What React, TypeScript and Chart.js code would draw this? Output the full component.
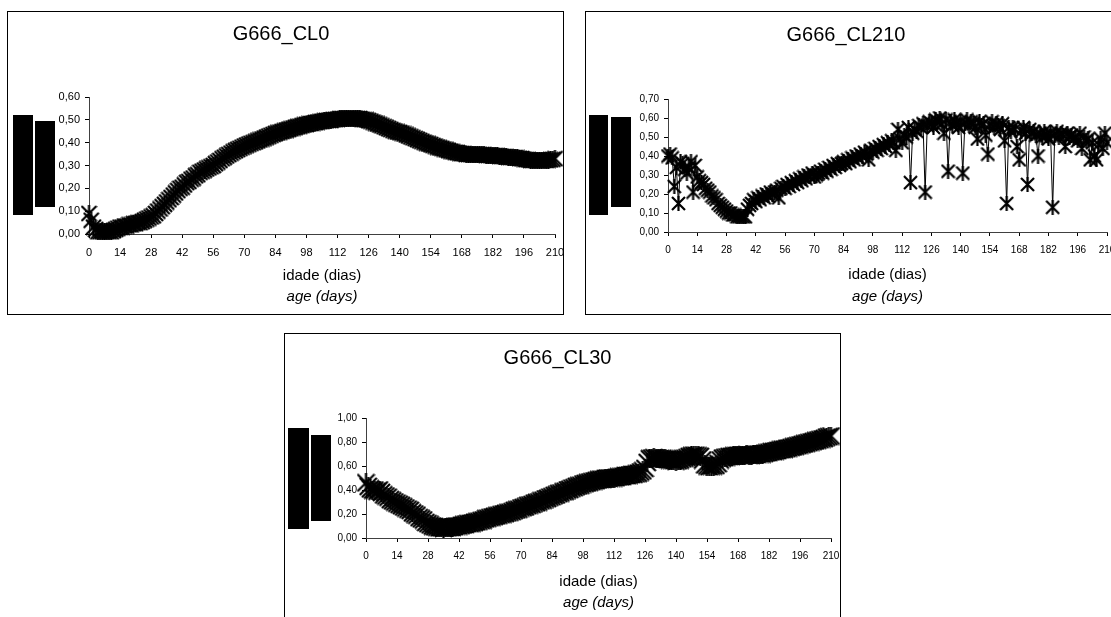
import React, { useEffect, useRef } from 'react';
import { Chart, registerables } from 'chart.js';

Chart.register(...registerables);

// ---------- data ----------
const DAYS: number[] = Array.from({ length: 211 }, (_, i) => i);
const X_TICKS = [0, 14, 28, 42, 56, 70, 84, 98, 112, 126, 140, 154, 168, 182, 196, 210];
const X_TITLE = 'idade (dias)';
const X_SUBTITLE = 'age (days)';

const TITLE_CL0 = 'G666_CL0';
const TITLE_CL210 = 'G666_CL210';
const TITLE_CL30 = 'G666_CL30';

const Y_TICKS_CL0 = [0, 0.1, 0.2, 0.3, 0.4, 0.5, 0.6];
const Y_TICKS_CL210 = [0, 0.1, 0.2, 0.3, 0.4, 0.5, 0.6, 0.7];
const Y_TICKS_CL30 = [0, 0.2, 0.4, 0.6, 0.8, 1.0];

const VALUES_CL0 = [
  0.09, 0.06, 0.03, 0.02, 0.01, 0.01, 0.01, 0.01, 0.01, 0.01, 0.01, 0.015, 0.02, 0.025,
  0.03, 0.03, 0.035, 0.035, 0.04, 0.04, 0.045, 0.045, 0.05, 0.05, 0.055, 0.06, 0.065, 0.07,
  0.075, 0.08, 0.09, 0.10, 0.11, 0.12, 0.13, 0.14, 0.15, 0.16, 0.17, 0.18, 0.19, 0.20,
  0.205, 0.215, 0.225, 0.23, 0.24, 0.245, 0.255, 0.26, 0.27, 0.275, 0.28, 0.285, 0.29, 0.295,
  0.30, 0.308, 0.315, 0.322, 0.33, 0.336, 0.342, 0.348, 0.354, 0.36, 0.365, 0.37, 0.375, 0.38,
  0.385, 0.389, 0.393, 0.397, 0.40, 0.404, 0.408, 0.412, 0.416, 0.42, 0.424, 0.428, 0.432, 0.436,
  0.44, 0.443, 0.446, 0.449, 0.452, 0.455, 0.458, 0.461, 0.464, 0.467, 0.47, 0.472, 0.475, 0.478,
  0.48, 0.482, 0.484, 0.486, 0.488, 0.49, 0.492, 0.494, 0.496, 0.497, 0.498, 0.499, 0.50, 0.502,
  0.503, 0.504, 0.505, 0.506, 0.507, 0.508, 0.508, 0.508, 0.507, 0.506, 0.505, 0.503, 0.501, 0.50,
  0.497, 0.494, 0.49, 0.486, 0.482, 0.478, 0.474, 0.47, 0.466, 0.462, 0.458, 0.454, 0.45, 0.447,
  0.445, 0.442, 0.438, 0.434, 0.43, 0.426, 0.422, 0.418, 0.414, 0.41, 0.406, 0.402, 0.398, 0.395,
  0.392, 0.388, 0.385, 0.381, 0.378, 0.375, 0.372, 0.369, 0.366, 0.363, 0.36, 0.358, 0.356, 0.354,
  0.352, 0.351, 0.35, 0.349, 0.348, 0.348, 0.347, 0.347, 0.346, 0.346, 0.346, 0.345, 0.345, 0.345,
  0.343, 0.342, 0.342, 0.341, 0.34, 0.339, 0.338, 0.337, 0.336, 0.335, 0.334, 0.333, 0.331, 0.33,
  0.328, 0.326, 0.325, 0.324, 0.323, 0.322, 0.322, 0.321, 0.321, 0.322, 0.323, 0.324, 0.325, 0.327,
  0.33,
];

const VALUES_CL210 = [
  0.40, 0.41, 0.39, 0.24, 0.34, 0.15, 0.37, 0.36, 0.33, 0.31, 0.34, 0.37, 0.21, 0.35,
  0.29, 0.27, 0.26, 0.25, 0.23, 0.22, 0.21, 0.19, 0.18, 0.17, 0.15, 0.14, 0.13, 0.12,
  0.11, 0.10, 0.10, 0.09, 0.09, 0.08, 0.08, 0.08, 0.08, 0.08, 0.12, 0.14, 0.15, 0.17,
  0.16, 0.18, 0.17, 0.19, 0.18, 0.20, 0.19, 0.21, 0.20, 0.21, 0.22, 0.18, 0.23, 0.24,
  0.23, 0.25, 0.24, 0.26, 0.25, 0.27, 0.26, 0.28, 0.27, 0.29, 0.28, 0.30, 0.29, 0.31,
  0.29, 0.30, 0.31, 0.32, 0.31, 0.33, 0.32, 0.34, 0.33, 0.35, 0.34, 0.36, 0.35, 0.36,
  0.37, 0.36, 0.38, 0.37, 0.39, 0.38, 0.40, 0.39, 0.41, 0.40, 0.42, 0.41, 0.38, 0.43,
  0.42, 0.44, 0.43, 0.45, 0.44, 0.46, 0.45, 0.47, 0.46, 0.48, 0.47, 0.43, 0.54, 0.49,
  0.47, 0.51, 0.50, 0.55, 0.26, 0.52, 0.54, 0.53, 0.56, 0.55, 0.57, 0.21, 0.56, 0.58,
  0.57, 0.55, 0.59, 0.58, 0.60, 0.57, 0.52, 0.59, 0.32, 0.58, 0.56, 0.59, 0.57, 0.55,
  0.58, 0.31, 0.57, 0.59, 0.56, 0.58, 0.57, 0.55, 0.49, 0.58, 0.56, 0.57, 0.51, 0.41,
  0.56, 0.58, 0.55, 0.57, 0.56, 0.54, 0.57, 0.48, 0.15, 0.55, 0.53, 0.55, 0.54, 0.45,
  0.38, 0.53, 0.55, 0.52, 0.25, 0.54, 0.52, 0.53, 0.51, 0.40, 0.52, 0.50, 0.53, 0.51,
  0.49, 0.52, 0.13, 0.51, 0.53, 0.50, 0.52, 0.51, 0.45, 0.52, 0.50, 0.51, 0.49, 0.50,
  0.48, 0.52, 0.44, 0.50, 0.48, 0.49, 0.38, 0.47, 0.40, 0.38, 0.46, 0.49, 0.44, 0.52,
  0.47,
];

const VALUES_CL30 = [
  0.46, 0.43, 0.41, 0.40, 0.40, 0.39, 0.40, 0.38, 0.36, 0.35, 0.34, 0.32, 0.31, 0.30,
  0.29, 0.28, 0.27, 0.26, 0.25, 0.24, 0.23, 0.21, 0.20, 0.19, 0.17, 0.16, 0.15, 0.13,
  0.12, 0.11, 0.10, 0.095, 0.09, 0.085, 0.085, 0.08, 0.085, 0.085, 0.09, 0.09, 0.095, 0.10,
  0.10, 0.105, 0.11, 0.115, 0.12, 0.12, 0.125, 0.13, 0.135, 0.14, 0.145, 0.15, 0.16, 0.165,
  0.17, 0.175, 0.18, 0.185, 0.19, 0.195, 0.20, 0.205, 0.21, 0.215, 0.22, 0.23, 0.235, 0.24,
  0.25, 0.255, 0.26, 0.27, 0.275, 0.28, 0.29, 0.295, 0.30, 0.31, 0.315, 0.325, 0.33, 0.34,
  0.345, 0.355, 0.36, 0.37, 0.375, 0.385, 0.39, 0.40, 0.405, 0.415, 0.42, 0.43, 0.435, 0.44,
  0.45, 0.455, 0.46, 0.465, 0.47, 0.475, 0.48, 0.485, 0.49, 0.49, 0.495, 0.50, 0.50, 0.50,
  0.50, 0.505, 0.51, 0.51, 0.515, 0.52, 0.52, 0.525, 0.53, 0.53, 0.535, 0.54, 0.55, 0.56,
  0.58, 0.63, 0.66, 0.665, 0.67, 0.665, 0.66, 0.66, 0.665, 0.66, 0.655, 0.65, 0.65, 0.645,
  0.64, 0.645, 0.65, 0.66, 0.665, 0.67, 0.68, 0.685, 0.69, 0.69, 0.685, 0.68, 0.65, 0.61,
  0.60, 0.595, 0.60, 0.60, 0.605, 0.62, 0.65, 0.665, 0.67, 0.675, 0.68, 0.68, 0.685, 0.685,
  0.69, 0.69, 0.69, 0.69, 0.695, 0.69, 0.69, 0.695, 0.695, 0.70, 0.70, 0.70, 0.705, 0.71,
  0.715, 0.72, 0.72, 0.725, 0.73, 0.735, 0.74, 0.74, 0.745, 0.75, 0.755, 0.76, 0.765, 0.77,
  0.775, 0.78, 0.785, 0.79, 0.795, 0.80, 0.805, 0.81, 0.815, 0.82, 0.825, 0.83, 0.84, 0.845,
  0.85,
];

// ---------- layout / style ----------
const FONT = '"Liberation Sans", Arial, Helvetica, sans-serif';

type Spec = {
  title: string;
  values: number[];
  yTicks: number[];
  box: { left: number; top: number; width: number; height: number };
  plot: { left: number; right: number; top: number; bottom: number };
  titleCenter: number;
  idadeOffset: number;
  ageOffset: number;
  xFont: number;
  yFont: number;
  marker: number;
  redactions: { left: number; top: number; width: number; height: number }[];
};

const SPECS: Spec[] = [
  {
    title: TITLE_CL0,
    values: VALUES_CL0,
    yTicks: Y_TICKS_CL0,
    box: { left: 7, top: 11, width: 557, height: 304 },
    plot: { left: 82, right: 548, top: 86, bottom: 223 },
    titleCenter: 23,
    idadeOffset: 42,
    ageOffset: 63,
    xFont: 11,
    yFont: 11,
    marker: 17,
    redactions: [
      { left: 13, top: 115, width: 20, height: 100 },
      { left: 35, top: 121, width: 20, height: 86 },
    ],
  },
  {
    title: TITLE_CL210,
    values: VALUES_CL210,
    yTicks: Y_TICKS_CL210,
    box: { left: 585, top: 11, width: 527, height: 304 },
    plot: { left: 83, right: 522, top: 88, bottom: 221 },
    titleCenter: 24,
    idadeOffset: 43,
    ageOffset: 65,
    xFont: 10,
    yFont: 10,
    marker: 15,
    redactions: [
      { left: 589, top: 115, width: 19, height: 100 },
      { left: 611, top: 117, width: 20, height: 90 },
    ],
  },
  {
    title: TITLE_CL30,
    values: VALUES_CL30,
    yTicks: Y_TICKS_CL30,
    box: { left: 284, top: 333, width: 557, height: 304 },
    plot: { left: 82, right: 547, top: 85, bottom: 205 },
    titleCenter: 25,
    idadeOffset: 44,
    ageOffset: 65,
    xFont: 10,
    yFont: 10,
    marker: 19,
    redactions: [
      { left: 288, top: 428, width: 21, height: 101 },
      { left: 311, top: 435, width: 20, height: 86 },
    ],
  },
];

function makeStar(size: number, lw: number): HTMLCanvasElement {
  const c = document.createElement('canvas');
  c.width = size;
  c.height = size;
  const g = c.getContext('2d')!;
  g.strokeStyle = '#000';
  g.lineWidth = lw;
  g.beginPath();
  g.moveTo(1, 1);
  g.lineTo(size - 1, size - 1);
  g.moveTo(size - 1, 1);
  g.lineTo(1, size - 1);
  g.moveTo(size / 2, 0);
  g.lineTo(size / 2, size);
  g.stroke();
  return c;
}

const fmt = (v: number) => v.toFixed(2).replace('.', ',');

function ChartBox({ spec }: { spec: Spec }) {
  const ref = useRef<HTMLCanvasElement>(null);
  const { box, plot } = spec;

  useEffect(() => {
    if (!ref.current) return;
    const star = makeStar(spec.marker, 2.2);
    const titleLH = 24; // 20px * 1.2
    const titlePadTop = spec.titleCenter - titleLH / 2;
    const titlePadBottom = plot.top - titlePadTop - titleLH;
    const hx = spec.idadeOffset + 9;
    const h2 = spec.ageOffset + 9 - hx;
    const padBottom = box.height - plot.bottom - hx - h2;
    const padRight = box.width - plot.right;
    const yMax = spec.yTicks[spec.yTicks.length - 1];

    const chart = new Chart(ref.current, {
      type: 'line',
      data: {
        datasets: [
          {
            data: DAYS.map((d, i) => ({ x: d, y: spec.values[i] })),
            borderColor: '#000',
            borderWidth: 1,
            pointStyle: star as any,
            pointRadius: 8,
            pointBorderColor: '#000',
            pointBackgroundColor: '#000',
            tension: 0,
            fill: false,
            clip: false as any,
          },
        ],
      },
      options: {
        responsive: false,
        animation: false,
        events: [],
        layout: {
          autoPadding: false,
          padding: { left: 0, top: 0, right: padRight, bottom: padBottom },
        },
        plugins: {
          legend: { display: false },
          tooltip: { enabled: false },
          title: {
            display: true,
            text: spec.title,
            color: '#000',
            font: { family: FONT, size: 20, weight: 'normal', lineHeight: 1.2 },
            padding: { top: titlePadTop, bottom: titlePadBottom },
          },
        },
        scales: {
          x: {
            type: 'linear',
            position: 'bottom',
            weight: 0,
            min: 0,
            max: 210,
            afterBuildTicks: (s: any) => {
              s.ticks = X_TICKS.map((v) => ({ value: v }));
            },
            ticks: {
              autoSkip: false,
              maxRotation: 0,
              color: '#000',
              padding: 8,
              font: { family: FONT, size: spec.xFont },
            },
            grid: {
              display: true,
              drawOnChartArea: false,
              drawTicks: true,
              tickLength: 4,
              color: '#000',
              lineWidth: 1,
            },
            border: { display: true, color: '#404040', width: 1 },
            title: {
              display: true,
              text: X_TITLE,
              color: '#000',
              padding: 0,
              font: { family: FONT, size: 15, lineHeight: 1.2 },
            },
            afterFit: (s: any) => {
              s.height = hx;
              s.paddingLeft = 0;
              s.paddingRight = 0;
            },
          },
          x2: {
            type: 'linear',
            position: 'bottom',
            weight: 1,
            min: 0,
            max: 210,
            ticks: { display: false },
            grid: { display: false, drawTicks: false },
            border: { display: false },
            title: {
              display: true,
              text: X_SUBTITLE,
              color: '#000',
              padding: 0,
              font: { family: FONT, size: 15, style: 'italic', lineHeight: 1.2 },
            },
            afterFit: (s: any) => {
              s.height = h2;
              s.paddingLeft = 0;
              s.paddingRight = 0;
            },
          },
          y: {
            type: 'linear',
            position: 'left',
            min: 0,
            max: yMax,
            afterBuildTicks: (s: any) => {
              s.ticks = spec.yTicks.map((v) => ({ value: v }));
            },
            ticks: {
              color: '#000',
              padding: 5,
              font: { family: FONT, size: spec.yFont },
              callback: (v: any) => fmt(Number(v)),
            },
            grid: {
              display: true,
              drawOnChartArea: false,
              drawTicks: true,
              tickLength: 4,
              color: '#000',
              lineWidth: 1,
            },
            border: { display: true, color: '#404040', width: 1 },
            afterFit: (s: any) => {
              s.width = plot.left;
            },
          },
        },
      } as any,
    });
    return () => chart.destroy();
  }, []);

  return (
    <>
      <canvas
        ref={ref}
        width={box.width}
        height={box.height}
        style={{
          position: 'absolute',
          left: box.left,
          top: box.top,
          width: box.width,
          height: box.height,
          display: 'block',
        }}
      />
      <div
        style={{
          position: 'absolute',
          left: box.left,
          top: box.top,
          width: box.width,
          height: box.height,
          border: '1px solid #000',
          boxSizing: 'border-box',
          pointerEvents: 'none',
        }}
      />
      {spec.redactions.map((r, i) => (
        <div
          key={i}
          style={{
            position: 'absolute',
            left: r.left,
            top: r.top,
            width: r.width,
            height: r.height,
            background: '#000',
          }}
        />
      ))}
    </>
  );
}

export default function App() {
  return (
    <div
      style={{
        position: 'fixed',
        left: 0,
        top: 0,
        width: 1111,
        height: 617,
        overflow: 'hidden',
        background: '#fff',
      }}
    >
      {SPECS.map((s, i) => (
        <ChartBox key={i} spec={s} />
      ))}
    </div>
  );
}
